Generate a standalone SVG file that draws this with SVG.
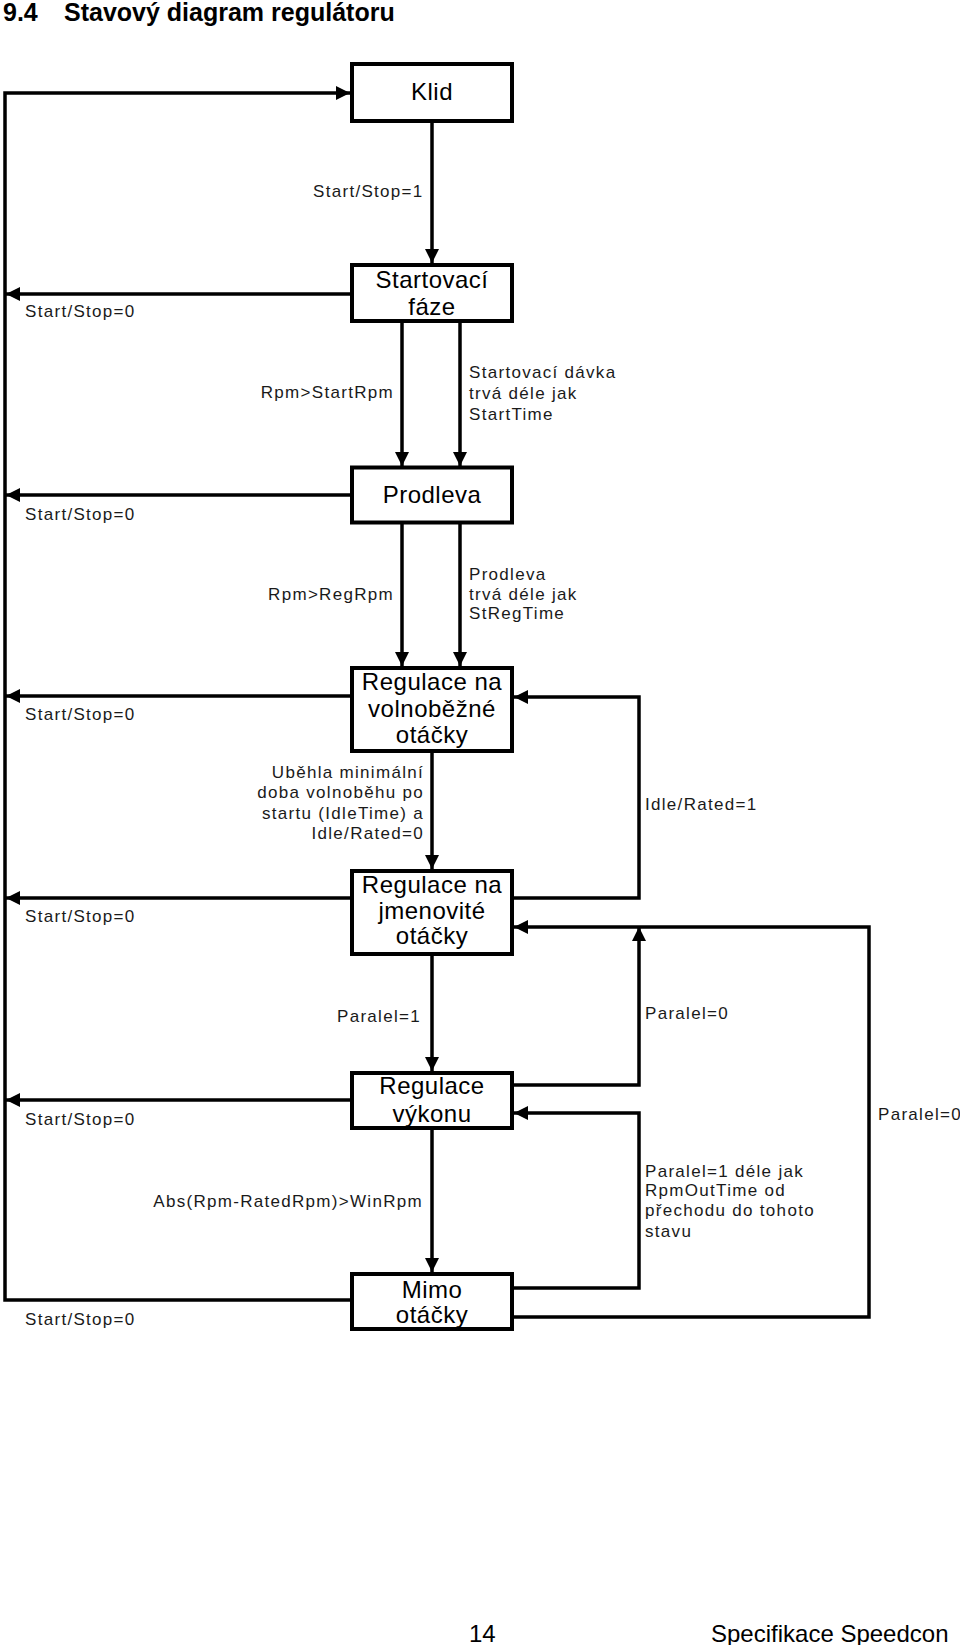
<svg xmlns="http://www.w3.org/2000/svg" width="960" height="1645" viewBox="0 0 960 1645">
<style>
  .box { fill: #fff; stroke: #000; stroke-width: 4; }
  .st { font-family: "Liberation Sans", Arial, sans-serif; font-size: 24px; letter-spacing: 0.5px; text-anchor: middle; fill: #000; }
  .lb { font-family: "Liberation Sans", Arial, sans-serif; font-size: 17px; letter-spacing: 1.3px; fill: #1a1a1a; }
  .end { text-anchor: end; }
  .cn { fill: none; stroke: #000; stroke-width: 3.5; }
  .title { font-family: "Liberation Sans", Arial, sans-serif; font-size: 25px; font-weight: bold; fill: #000; }
  .foot { font-family: "Liberation Sans", Arial, sans-serif; font-size: 24px; fill: #000; }
</style>
<defs>
  <marker id="ah" markerUnits="userSpaceOnUse" markerWidth="15" markerHeight="15" refX="14" refY="7" orient="auto">
    <path d="M0,0 L14,7 L0,14 z" fill="#000"/>
  </marker>
</defs>
<rect width="960" height="1645" fill="#fff"/>

<text class="title" x="3" y="21">9.4</text>
<text class="title" x="64" y="21">Stavový diagram regulátoru</text>

<g id="connectors">
  <!-- left bus -->
  <path class="cn" d="M350,1300 H5 V93 H350" marker-end="url(#ah)"/>
  <!-- Start/Stop=0 returns -->
  <path class="cn" d="M350,294 H6" marker-end="url(#ah)"/>
  <path class="cn" d="M350,495 H6" marker-end="url(#ah)"/>
  <path class="cn" d="M350,696 H6" marker-end="url(#ah)"/>
  <path class="cn" d="M350,898 H6" marker-end="url(#ah)"/>
  <path class="cn" d="M350,1100 H6" marker-end="url(#ah)"/>
  <!-- main downward flow -->
  <path class="cn" d="M432,123 V263" marker-end="url(#ah)"/>
  <path class="cn" d="M402,323 V466" marker-end="url(#ah)"/>
  <path class="cn" d="M460,323 V466" marker-end="url(#ah)"/>
  <path class="cn" d="M402,524 V666" marker-end="url(#ah)"/>
  <path class="cn" d="M460,524 V666" marker-end="url(#ah)"/>
  <path class="cn" d="M432,753 V869" marker-end="url(#ah)"/>
  <path class="cn" d="M432,956 V1071" marker-end="url(#ah)"/>
  <path class="cn" d="M432,1129 V1272" marker-end="url(#ah)"/>
  <!-- right loops -->
  <path class="cn" d="M514,898 H639 V697 H514" marker-end="url(#ah)"/>
  <path class="cn" d="M514,1085 H639 V927" marker-end="url(#ah)"/>
  <path class="cn" d="M514,1317 H869 V927 H514" marker-end="url(#ah)"/>
  <path class="cn" d="M514,1288 H639 V1113 H514" marker-end="url(#ah)"/>
</g>

<g id="labels">
  <text class="lb" x="313" y="197">Start/Stop=1</text>
  <text class="lb" x="25" y="317">Start/Stop=0</text>
  <text class="lb" x="25" y="520">Start/Stop=0</text>
  <text class="lb" x="25" y="720">Start/Stop=0</text>
  <text class="lb" x="25" y="922">Start/Stop=0</text>
  <text class="lb" x="25" y="1125">Start/Stop=0</text>
  <text class="lb" x="25" y="1325">Start/Stop=0</text>
  <text class="lb end" x="394" y="398">Rpm&gt;StartRpm</text>
  <text class="lb" x="469" y="378">Startovací dávka</text>
  <text class="lb" x="469" y="399">trvá déle jak</text>
  <text class="lb" x="469" y="420">StartTime</text>
  <text class="lb end" x="394" y="600">Rpm&gt;RegRpm</text>
  <text class="lb" x="469" y="580">Prodleva</text>
  <text class="lb" x="469" y="600">trvá déle jak</text>
  <text class="lb" x="469" y="619">StRegTime</text>
  <text class="lb end" x="424" y="778">Uběhla minimální</text>
  <text class="lb end" x="424" y="798">doba volnoběhu po</text>
  <text class="lb end" x="424" y="819">startu (IdleTime) a</text>
  <text class="lb end" x="424" y="839">Idle/Rated=0</text>
  <text class="lb" x="645" y="810">Idle/Rated=1</text>
  <text class="lb end" x="421" y="1022">Paralel=1</text>
  <text class="lb" x="645" y="1019">Paralel=0</text>
  <text class="lb end" x="423" y="1207">Abs(Rpm-RatedRpm)&gt;WinRpm</text>
  <text class="lb" x="878" y="1120">Paralel=0</text>
  <text class="lb" x="645" y="1177">Paralel=1 déle jak</text>
  <text class="lb" x="645" y="1196">RpmOutTime od</text>
  <text class="lb" x="645" y="1216">přechodu do tohoto</text>
  <text class="lb" x="645" y="1237">stavu</text>
</g>

<g id="klid">
  <rect class="box" x="352" y="64" width="160" height="57"/>
  <text class="st" x="432" y="100">Klid</text>
</g>
<g id="startovaci">
  <rect class="box" x="352" y="265" width="160" height="56"/>
  <text class="st" x="432" y="288">Startovací</text>
  <text class="st" x="432" y="315">fáze</text>
</g>
<g id="prodleva">
  <rect class="box" x="352" y="467.5" width="160" height="55"/>
  <text class="st" x="432" y="503">Prodleva</text>
</g>
<g id="volnobezne">
  <rect class="box" x="352" y="668" width="160" height="83"/>
  <text class="st" x="432" y="690">Regulace na</text>
  <text class="st" x="432" y="716.5">volnoběžné</text>
  <text class="st" x="432" y="742.5">otáčky</text>
</g>
<g id="jmenovite">
  <rect class="box" x="352" y="871" width="160" height="83"/>
  <text class="st" x="432" y="892.5">Regulace na</text>
  <text class="st" x="432" y="918.5">jmenovité</text>
  <text class="st" x="432" y="944">otáčky</text>
</g>
<g id="vykonu">
  <rect class="box" x="352" y="1073" width="160" height="55"/>
  <text class="st" x="432" y="1094">Regulace</text>
  <text class="st" x="432" y="1122">výkonu</text>
</g>
<g id="mimo">
  <rect class="box" x="352" y="1274" width="160" height="55"/>
  <text class="st" x="432" y="1298">Mimo</text>
  <text class="st" x="432" y="1323">otáčky</text>
</g>

<text class="foot" x="469" y="1642">14</text>
<text class="foot" x="711" y="1642">Specifikace Speedcon</text>
</svg>
